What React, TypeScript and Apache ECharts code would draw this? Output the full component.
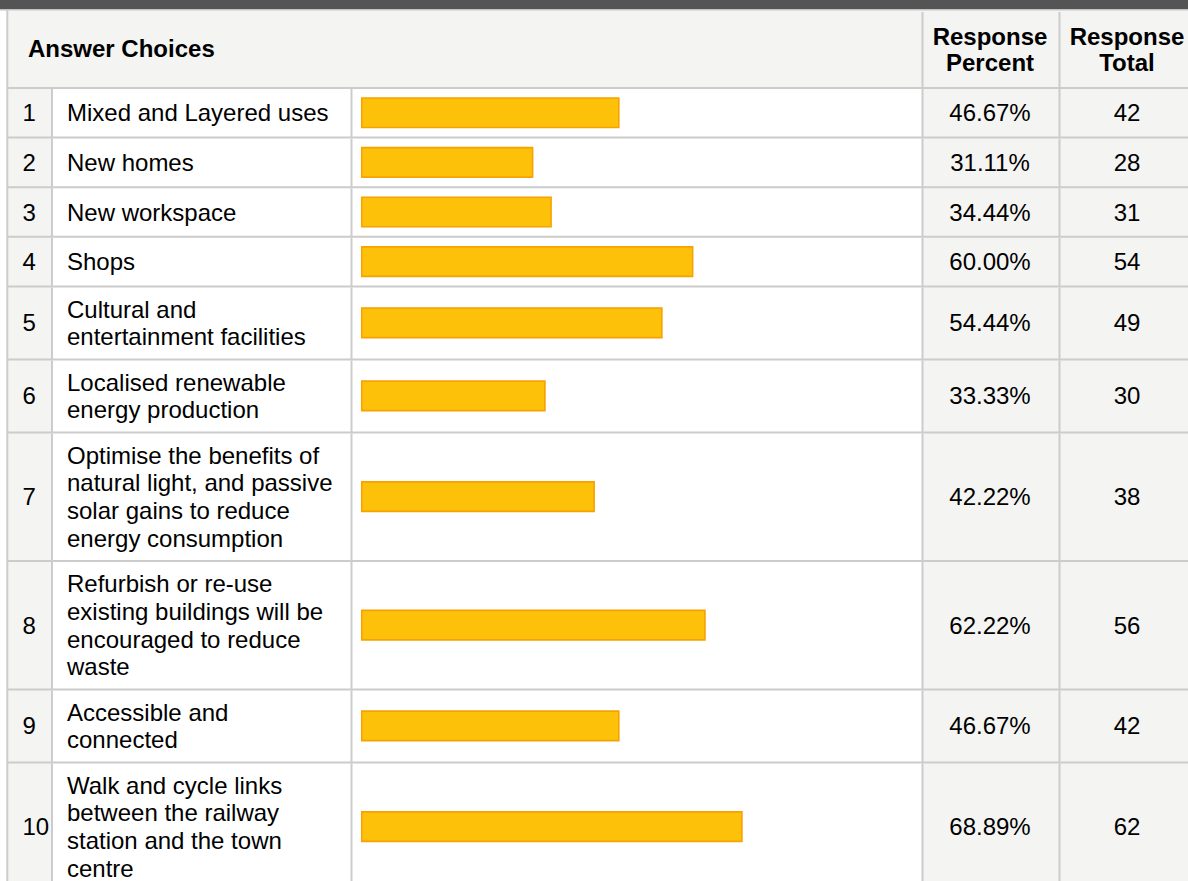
import React, { useEffect, useRef } from "react";
import * as echarts from "echarts";

// ---- data ----
const rowNumbers = ["1", "2", "3", "4", "5", "6", "7", "8", "9", "10"];
const answerLabels = [
  "Mixed and Layered uses",
  "New homes",
  "New workspace",
  "Shops",
  "Cultural and\nentertainment facilities",
  "Localised renewable\nenergy production",
  "Optimise the benefits of\nnatural light, and passive\nsolar gains to reduce\nenergy consumption",
  "Refurbish or re-use\nexisting buildings will be\nencouraged to reduce\nwaste",
  "Accessible and\nconnected",
  "Walk and cycle links\nbetween the railway\nstation and the town\ncentre",
];
const responsePercent = [46.67, 31.11, 34.44, 60.0, 54.44, 33.33, 42.22, 62.22, 46.67, 68.89];
const responseTotal = [42, 28, 31, 54, 49, 30, 38, 56, 42, 62];
const headerTitle = "Answer Choices";
const headerPercent = "Response\nPercent";
const headerTotal = "Response\nTotal";

// ---- layout / style ----
const FONT = '"Liberation Sans", Arial, Helvetica, sans-serif';
const LINE_H = 27.75;
const ROW_PAD = 17.5;
const MIN_ROW = 49.6;
const GRID_TOP = 88;
const VIEW_H = 881;
const BORDER = "#cccccc";
const CELL_BG = "#f4f4f2";

export default function App() {
  const ref = useRef<HTMLDivElement>(null);

  useEffect(() => {
    document.body.style.margin = "0";
    if (!ref.current) return;
    const chart = echarts.init(ref.current, null, { renderer: "svg" });

    // row extents (in pixel units along the y value axis) from label line counts
    const starts: number[] = [];
    const ends: number[] = [];
    let acc = 0;
    answerLabels.forEach((l) => {
      const lines = l.split("\n").length;
      const h = Math.max(MIN_ROW, lines * LINE_H + ROW_PAD);
      starts.push(acc);
      acc += h;
      ends.push(acc);
    });
    const visible = VIEW_H - GRID_TOP;

    const data = responsePercent.map((p, i) => [p, starts[i], ends[i], responseTotal[i]]);

    const renderItem = (params: any, api: any) => {
      const i = params.dataIndex;
      const pct = api.value(0);
      const y0 = api.value(1);
      const y1 = api.value(2);
      const tot = api.value(3);
      const pTop = api.coord([0, y0]);
      const pBot = api.coord([0, y1]);
      const pEnd = api.coord([pct, (y0 + y1) / 2]);
      const top = pTop[1];
      const bot = pBot[1];
      const mid = (top + bot) / 2;
      const x0 = pTop[0];
      const h = bot - top;
      const txt = (x: number, text: string, align: string, bold = false) => ({
        type: "text",
        x,
        y: mid,
        style: {
          text,
          x: 0,
          y: 0,
          align,
          verticalAlign: "middle",
          font: `${bold ? "bold " : ""}24px ${FONT}`,
          lineHeight: LINE_H,
          fill: "#000000",
        },
      });
      const vline = (x: number) => ({
        type: "line",
        shape: { x1: x, y1: top + 1, x2: x, y2: bot },
        style: { stroke: BORDER, lineWidth: 2 },
      });
      return {
        type: "group",
        children: [
          { type: "rect", shape: { x: 8, y: top, width: 44, height: h }, style: { fill: CELL_BG } },
          { type: "rect", shape: { x: 922, y: top, width: 270, height: h }, style: { fill: CELL_BG } },
          vline(52),
          vline(351.5),
          vline(922.5),
          vline(1059.5),
          {
            type: "line",
            shape: { x1: 7, y1: top, x2: 1188, y2: top },
            style: { stroke: BORDER, lineWidth: 2 },
          },
          {
            type: "rect",
            shape: { x: x0 + 0.75, y: mid - 14.75, width: pEnd[0] - x0 - 1.5, height: 29.5 },
            style: { fill: "#fec10a", stroke: "#f6a200", lineWidth: 1.6 },
          },
          txt(22.5, rowNumbers[i], "left"),
          txt(67, answerLabels[i], "left"),
          txt(990, pct.toFixed(2) + "%", "center"),
          txt(1127, String(tot), "center"),
        ],
      };
    };

    chart.setOption({
      animation: false,
      grid: { left: 361, width: 554, top: GRID_TOP, height: visible, containLabel: false },
      xAxis: { type: "value", min: 0, max: 100, show: false },
      yAxis: { type: "value", min: 0, max: visible, inverse: true, show: false },
      graphic: [
        { type: "rect", shape: { x: 0, y: 0, width: 1188, height: 9.5 }, style: { fill: "#545454" } },
        { type: "rect", shape: { x: 8, y: 11, width: 1180, height: 77 }, style: { fill: CELL_BG } },
        {
          type: "line",
          shape: { x1: 0, y1: 10.3, x2: 1188, y2: 10.3 },
          style: { stroke: "#dddddd", lineWidth: 1.5 },
        },
        {
          type: "line",
          shape: { x1: 7.3, y1: 9.5, x2: 7.3, y2: 881 },
          style: { stroke: BORDER, lineWidth: 2 },
          z: 10,
        },
        {
          type: "line",
          shape: { x1: 922.5, y1: 12, x2: 922.5, y2: 88 },
          style: { stroke: BORDER, lineWidth: 2 },
        },
        {
          type: "line",
          shape: { x1: 1059.5, y1: 12, x2: 1059.5, y2: 88 },
          style: { stroke: BORDER, lineWidth: 2 },
        },
        {
          type: "text",
          x: 28,
          y: 48.5,
          style: {
            text: headerTitle,
            align: "left",
            verticalAlign: "middle",
            font: `bold 24px ${FONT}`,
            fill: "#000",
          },
        },
        {
          type: "text",
          x: 990,
          y: 49,
          style: {
            text: headerPercent,
            align: "center",
            verticalAlign: "middle",
            font: `bold 24px ${FONT}`,
            lineHeight: 26,
            fill: "#000",
          },
        },
        {
          type: "text",
          x: 1127,
          y: 49,
          style: {
            text: headerTotal,
            align: "center",
            verticalAlign: "middle",
            font: `bold 24px ${FONT}`,
            lineHeight: 26,
            fill: "#000",
          },
        },
      ],
      series: [
        {
          type: "custom",
          clip: false,
          renderItem,
          encode: { x: 0, y: [1, 2] },
          data,
        },
      ],
    });

    return () => chart.dispose();
  }, []);

  return <div ref={ref} style={{ width: 1188, height: 881 }} />;
}
